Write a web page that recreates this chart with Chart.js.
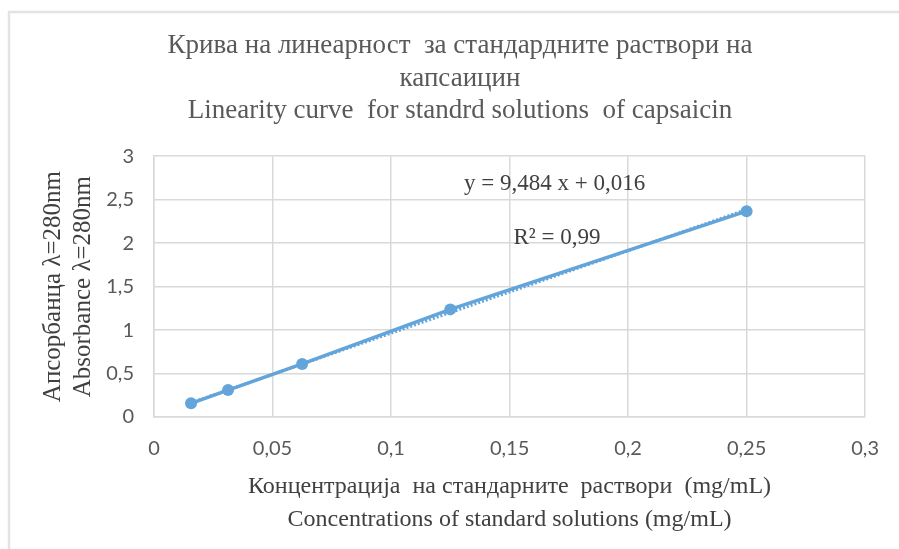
<!DOCTYPE html>
<html lang="mk">
<head>
  <meta charset="UTF-8" />
  <title>Linearity curve</title>
  <script src="https://cdn.jsdelivr.net/npm/chart.js"></script>
  <style>
    html, body { margin: 0; padding: 0; background: #fff; }
    #wrap { width: 899px; height: 549px; position: relative; }
  </style>
</head>
<body>
  <div id="wrap"><canvas id="linChart" width="899" height="549"></canvas></div>
  <script>
    // measured standards
    const concentrations = [0.015625, 0.03125, 0.0625, 0.125, 0.25];
    const absorbances = [0.157, 0.31, 0.61, 1.238, 2.368];
    // linear trendline ends (y = 9,484 x + 0,016)
    const trendX = [0.015625, 0.25];
    const trendY = [0.164, 2.387];
    const xTicks = [0, 0.05, 0.1, 0.15, 0.2, 0.25, 0.3];
    const yTicks = [0, 0.5, 1, 1.5, 2, 2.5, 3];
    const titleLines = [
      'Крива на линеарност  за стандардните раствори на',
      'капсаицин',
      'Linearity curve  for standrd solutions  of capsaicin'
    ];
    const xTitleLines = [
      'Концентрација  на стандарните  раствори  (mg/mL)',
      'Concentrations of standard solutions (mg/mL)'
    ];
    const yTitleLines = ['Апсорбанца λ=280nm', 'Absorbance λ=280nm'];
    const eqText = 'y = 9,484 x + 0,016';
    const r2Text = 'R² = 0,99';

    const blue = '#63a5da';
    const serif = "'Liberation Serif', 'Times New Roman', serif";
    const sans = "Lato, 'Open Sans', sans-serif";

    const fmt = v => String(v).replace('.', ',');

    const frame = {
      id: 'frame',
      beforeDraw(chart) {
        const c = chart.ctx;
        c.save();
        c.strokeStyle = '#e3e3e3';
        c.lineWidth = 2.5;
        c.strokeRect(9, 12, 1200, 1200);
        c.restore();
      }
    };

    const eqLabels = {
      id: 'eqLabels',
      afterDatasetsDraw(chart) {
        const c = chart.ctx;
        const xs = chart.scales.x, ys = chart.scales.y;
        c.save();
        c.fillStyle = '#404040';
        c.font = '23px ' + serif;
        c.textAlign = 'center';
        c.textBaseline = 'middle';
        c.fillText(eqText, xs.getPixelForValue(0.169), ys.getPixelForValue(2.68));
        c.fillText(r2Text, xs.getPixelForValue(0.170), ys.getPixelForValue(2.06));
        c.restore();
      }
    };

    new Chart(document.getElementById('linChart').getContext('2d'), {
      type: 'scatter',
      data: {
        datasets: [
          {
            label: 'trend',
            data: trendX.map((x, i) => ({ x: x, y: trendY[i] })),
            showLine: true,
            borderColor: blue,
            borderWidth: 3,
            borderDash: [2, 2],
            pointRadius: 0,
            order: 2
          },
          {
            label: 'standards',
            data: concentrations.map((x, i) => ({ x: x, y: absorbances[i] })),
            showLine: true,
            borderColor: blue,
            backgroundColor: blue,
            borderWidth: 3.5,
            pointRadius: 6,
            pointBorderWidth: 0,
            order: 1
          }
        ]
      },
      options: {
        responsive: false,
        animation: false,
        layout: { padding: { top: 24, right: 17, left: 38, bottom: 10 } },
        plugins: {
          legend: { display: false },
          tooltip: { enabled: false },
          title: {
            display: true,
            text: titleLines,
            color: '#595959',
            font: { family: serif, size: 27, weight: 'normal', lineHeight: 1.2 },
            padding: { top: 6, bottom: 29 }
          }
        },
        scales: {
          x: {
            type: 'linear',
            min: 0, max: 0.3,
            afterBuildTicks: s => { s.ticks = xTicks.map(v => ({ value: v })); },
            afterFit: s => { s.height = 122; },
            ticks: {
              color: '#595959',
              font: { family: sans, size: 20 },
              padding: 20,
              maxRotation: 0,
              callback: v => fmt(v)
            },
            grid: { color: '#d9d9d9', lineWidth: 1.5, drawTicks: false },
            border: { color: '#d9d9d9', width: 1.5 },
            title: {
              display: true,
              text: xTitleLines,
              color: '#404040',
              font: { family: serif, size: 24, lineHeight: 1.375 },
              padding: { top: 10, bottom: 3 }
            }
          },
          y: {
            type: 'linear',
            min: 0, max: 3,
            afterBuildTicks: s => { s.ticks = yTicks.map(v => ({ value: v })); },
            afterFit: s => { s.width = 116; },
            ticks: {
              color: '#595959',
              font: { family: sans, size: 20 },
              padding: 20,
              callback: v => fmt(v)
            },
            grid: { color: '#d9d9d9', lineWidth: 1.5, drawTicks: false },
            border: { color: '#d9d9d9', width: 1.5 },
            title: {
              display: true,
              text: yTitleLines,
              color: '#404040',
              font: { family: serif, size: 25, lineHeight: 1.2 },
              padding: { top: 0, bottom: 4 }
            }
          },
          yRight: {
            type: 'linear',
            position: 'right',
            min: 0, max: 3,
            afterFit: s => { s.width = 15; },
            ticks: { display: false },
            grid: { display: false },
            border: { display: false }
          }
        }
      },
      plugins: [frame, eqLabels]
    });
  </script>
</body>
</html>
